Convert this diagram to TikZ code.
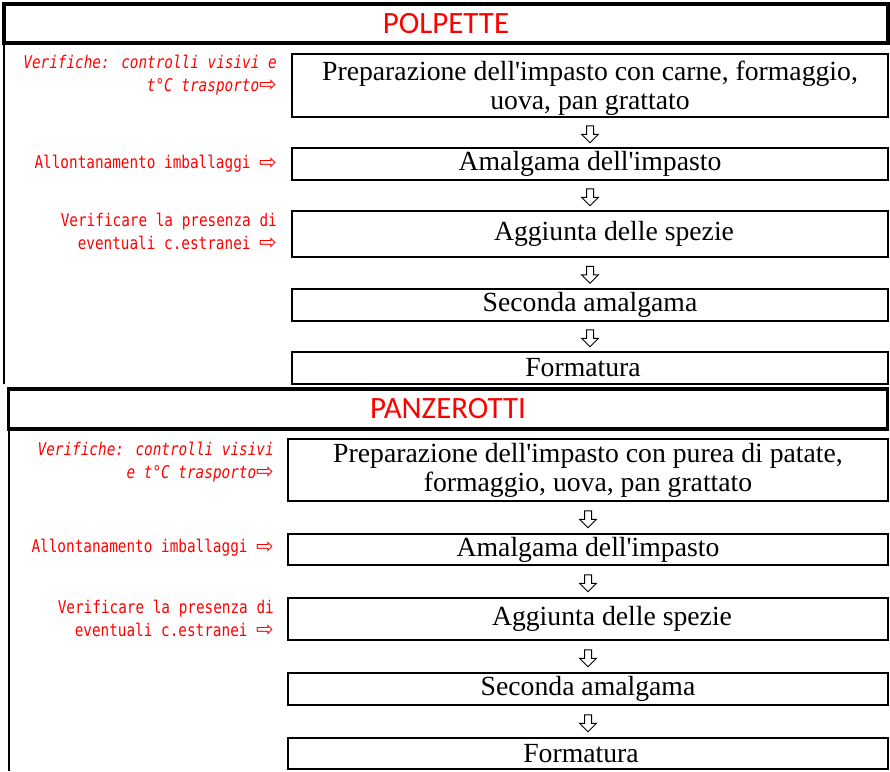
\documentclass[tikz,border=0pt]{standalone}
\usepackage{fontspec}
\usetikzlibrary{calc,shapes.arrows}
\setmainfont{Liberation Serif}
\newfontfamily\titlefont{Carlito}
\newfontfamily\labfont[FakeStretch=0.82]{DejaVu Sans Mono}
\newfontfamily\arrfont{DejaVu Sans}
\newcommand\rarr{{\arrfont\fontsize{21}{15}\selectfont\raisebox{-0.5pt}{⇨}}}
\newcommand\ap{\textquotesingle}
\begin{document}
\begin{tikzpicture}[x=1pt,y=-1pt,
  box/.style={draw, line width=2.2pt, minimum width=596pt, inner sep=0pt, outer sep=0pt,
    anchor=north west, align=center, font=\fontsize{27.7}{29}\selectfont},
  box2/.style={box, minimum width=600pt},
  titlebox/.style={draw, line width=3.5pt, inner sep=0pt, outer sep=0pt, anchor=north west,
    text=red, font=\titlefont\fontsize{31}{32}\selectfont},
  lab/.style={text=red, font=\labfont\fontsize{17.5}{22.5}\selectfont, align=right,
    anchor=east, inner sep=0pt},
  darr/.style={single arrow, draw, shape border rotate=270, minimum height=17pt,
    minimum width=16pt, single arrow head extend=5pt, inner sep=3pt, line width=1pt},
  frame/.style={line width=2pt}]
\useasboundingbox (0,0) rectangle (890,771);
% ---------- POLPETTE ----------
\node[titlebox, minimum width=884pt, minimum height=39pt] (t1) at (4,4) {POLPETTE};
\coordinate (l1) at (4,384);
\draw[frame] (t1.south west) -- (l1);
\node[box, minimum height=63pt] (b11) at (292,54) {\rule{0pt}{24pt}Preparazione dell\ap impasto con carne, formaggio,\\uova, pan grattato};
\node[box, minimum height=32pt] (b12) at (292,148) {Amalgama dell\ap impasto};
\node[box, minimum height=46pt] (b13) at (292,211) {\hspace*{48pt}Aggiunta delle spezie};
\node[box, minimum height=32pt] (b14) at (292,289) {Seconda amalgama};
\node[box, minimum height=32pt] (b15) at (292,352) {Formatura\hspace*{14pt}};
\node[darr] (a11) at ($(b11.south)!0.5!(b12.north)$) {};
\node[darr] (a12) at ($(b12.south)!0.5!(b13.north)$) {};
\node[darr] (a13) at ($(b13.south)!0.5!(b14.north)$) {};
\node[darr] (a14) at ($(b14.south)!0.5!(b15.north)$) {};
\node[lab] (v11) at (277,75) {\itshape Verifiche: controlli visivi e\\\itshape t°C trasporto\rarr};
\node[lab] (v12) at (277,164) {Allontanamento imballaggi \rarr};
\node[lab] (v13) at (277,231.5) {Verificare la presenza di\\eventuali c.estranei \rarr};
% ---------- PANZEROTTI ----------
\node[titlebox, minimum width=879pt, minimum height=40pt] (t2) at (8.5,389) {PANZEROTTI};
\coordinate (l2) at (8.5,771);
\draw[frame] (t2.south west) -- (l2);
\node[box2, minimum height=62pt] (b21) at (288,439) {Preparazione dell\ap impasto con purea di patate,\\formaggio, uova, pan grattato};
\node[box2, minimum height=31pt] (b22) at (288,534) {Amalgama dell\ap impasto};
\node[box2, minimum height=42pt] (b23) at (288,598) {\hspace*{48pt}Aggiunta delle spezie};
\node[box2, minimum height=32pt] (b24) at (288,673) {Seconda amalgama};
\node[box2, minimum height=31pt] (b25) at (288,738) {Formatura\hspace*{14pt}};
\node[darr] (a21) at ($(b21.south)!0.5!(b22.north)$) {};
\node[darr] (a22) at ($(b22.south)!0.5!(b23.north)$) {};
\node[darr] (a23) at ($(b23.south)!0.5!(b24.north)$) {};
\node[darr] (a24) at ($(b24.south)!0.5!(b25.north)$) {};
\node[lab] (v21) at (274,462) {\itshape Verifiche: controlli visivi\\\itshape e t°C trasporto\rarr};
\node[lab] (v22) at (274,548) {Allontanamento imballaggi \rarr};
\node[lab] (v23) at (274,618.5) {Verificare la presenza di\\eventuali c.estranei \rarr};
\end{tikzpicture}
\end{document}
